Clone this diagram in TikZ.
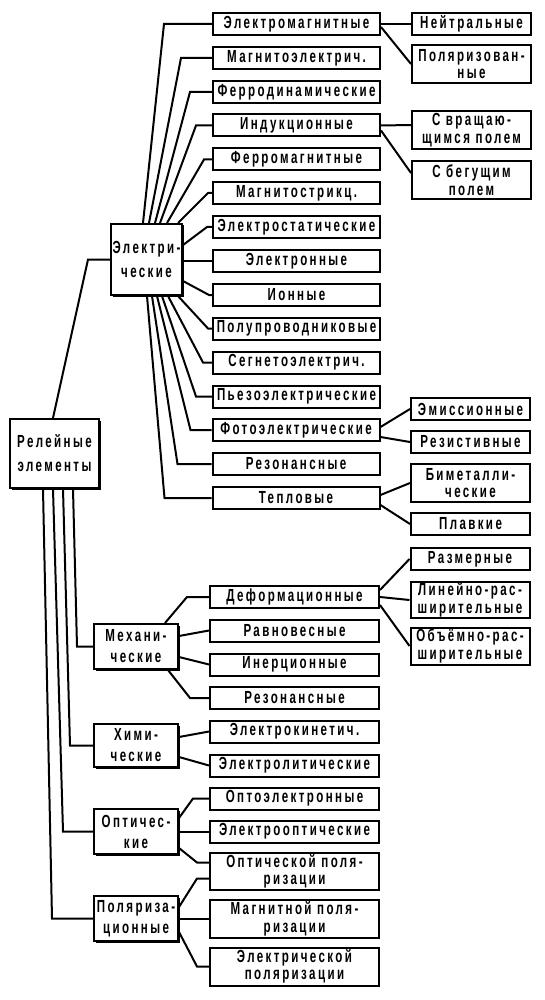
\documentclass[tikz,border=0pt]{standalone}
\usepackage{fontspec}
\setmainfont{Liberation Sans}[FakeStretch=0.66,LetterSpace=13.7]
\usetikzlibrary{shadows}
\begin{document}
\begin{tikzpicture}[x=1pt,y=-1pt,
  box/.style={draw, fill=white, line width=2pt, inner sep=0pt, align=center, font=\fontsize{17.5}{17.5}\selectfont\bfseries},
  sub/.style={box, minimum width=167pt, minimum height=22pt},
  subl/.style={box, minimum width=169pt, minimum height=22pt},
  side/.style={box, minimum width=119pt, minimum height=22pt},
  grp/.style={box, font=\fontsize{17.5}{21}\selectfont\bfseries, minimum width=84pt, minimum height=45pt,
    drop shadow={shadow xshift=1.5pt, shadow yshift=-1.5pt, fill=black, opacity=1}},
  wire/.style={line width=2pt}]
\useasboundingbox (0,0) rectangle (545,1000);
% groups
\node[grp, minimum width=89pt, minimum height=69pt, font=\fontsize{17.5}{24}\selectfont\bfseries] (rel) at (54.5,453.5) {Релейные\\элементы};
\node[grp, minimum width=71pt, minimum height=71pt, font=\fontsize{17.5}{24}\selectfont\bfseries] (el) at (146.5,259.5) {Электри-\\ческие};
\node[grp] (mech) at (136,646.5) {Механи-\\ческие};
\node[grp, minimum height=43pt] (chem) at (136,745.5) {Хими-\\ческие};
\node[grp] (opt) at (136,831.5) {Оптичес-\\кие};
\node[grp] (pol) at (136,918.5) {Поляриза-\\ционные};
% electric
\node[sub] (e1) at (296.5,24) {Электромагнитные};
\node[sub] (e2) at (296.5,58) {Магнитоэлектрич.};
\node[sub] (e3) at (296.5,92) {Ферродинамические};
\node[sub] (e4) at (296.5,125.5) {Индукционные};
\node[sub] (e5) at (296.5,159.5) {Ферромагнитные};
\node[sub] (e6) at (296.5,193) {Магнитострикц.};
\node[sub] (e7) at (296.5,227) {Электростатические};
\node[sub] (e8) at (296.5,261) {Электронные};
\node[sub] (e9) at (296.5,295) {Ионные};
\node[sub] (e10) at (296.5,328.5) {Полупроводниковые};
\node[sub] (e11) at (296.5,362.5) {Сегнетоэлектрич.};
\node[sub] (e12) at (296.5,396.5) {Пьезоэлектрические};
\node[sub] (e13) at (296,430) {Фотоэлектрические};
\node[sub] (e14) at (296,464) {Резонансные};
\node[sub] (e15) at (296,498) {Тепловые};
\node[side] (n1) at (471.5,24) {Нейтральные};
\node[side, minimum height=38pt] (n2) at (471.5,64) {Поляризован-\\ные};
\node[side, minimum height=38pt] (n3) at (471.5,130) {С вращаю-\\щимся полем};
\node[side, minimum height=38pt] (n4) at (471.5,180) {С бегущим\\полем};
\node[side] (f1) at (470.5,409) {Эмиссионные};
\node[side] (f2) at (470.5,442) {Резистивные};
\node[side, minimum height=38pt] (t1) at (470.5,483) {Биметалли-\\ческие};
\node[side] (t2) at (470.5,524) {Плавкие};
% mechanical, chemical, optical, polarisation
\node[subl] (m1) at (294.5,597) {Деформационные};
\node[subl] (m2) at (294.5,630.5) {Равновесные};
\node[subl] (m3) at (294.5,664.5) {Инерционные};
\node[subl] (m4) at (294.5,698) {Резонансные};
\node[side] (d1) at (470,559) {Размерные};
\node[side, minimum height=36pt] (d2) at (470,600) {Линейно-рас-\\ширительные};
\node[side, minimum height=37pt] (d3) at (470,646) {Объёмно-рас-\\ширительные};
\node[subl] (c1) at (294.5,731.5) {Электрокинетич.};
\node[subl] (c2) at (294.5,765.5) {Электролитические};
\node[subl] (o1) at (294.5,798.5) {Оптоэлектронные};
\node[subl] (o2) at (294.5,831.5) {Электрооптические};
\node[subl, minimum height=37pt] (o3) at (294.5,871.5) {Оптической поля-\\ризации};
\node[subl, minimum height=38pt] (p1) at (294.5,919) {Магнитной поля-\\ризации};
\node[subl, minimum height=38pt] (p2) at (294.5,966.5) {Электрической\\поляризации};
% relay -> groups
\draw[wire] ([xshift=-1.5pt]rel.north) -- ([xshift=-22pt]el.west) -- (el.west);
\draw[wire] ([xshift=18.5pt]rel.south) -- ([xshift=-16pt]mech.west) -- (mech.west);
\draw[wire] ([xshift=8.5pt]rel.south) -- ([xshift=-23pt]chem.west) -- (chem.west);
\draw[wire] ([xshift=-1.5pt]rel.south) -- ([xshift=-30pt]opt.west) -- (opt.west);
\draw[wire] ([xshift=-11.5pt]rel.south) -- ([xshift=-41pt]pol.west) -- (pol.west);
% electric fan
\draw[wire] ([xshift=-3.5pt]el.north) -- ([xshift=-48pt]e1.west) -- (e1.west);
\draw[wire] ([xshift=2.5pt]el.north) -- ([xshift=-31pt]e2.west) -- (e2.west);
\draw[wire] ([xshift=8.5pt]el.north) -- ([xshift=-22pt]e3.west) -- (e3.west);
\draw[wire] ([xshift=13.5pt]el.north) -- ([xshift=-16pt]e4.west) -- (e4.west);
\draw[wire] ([xshift=20.5pt]el.north) -- ([xshift=-8pt]e5.west) -- (e5.west);
\draw[wire] ([xshift=31.5pt]el.north) -- ([xshift=-4pt]e6.west) -- (e6.west);
\draw[wire] ([yshift=14.5pt]el.east) -- ([xshift=-5pt]e7.west) -- (e7.west);
\draw[wire] (e8.west -| el.east) -- (e8.west);
\draw[wire] ([yshift=-21.5pt]el.east) -- ([xshift=-3pt]e9.west) -- (e9.west);
\draw[wire] ([xshift=31.5pt]el.south) -- ([xshift=-4pt]e10.west) -- (e10.west);
\draw[wire] ([xshift=21.5pt]el.south) -- ([xshift=-9pt]e11.west) -- (e11.west);
\draw[wire] ([xshift=15.5pt]el.south) -- ([xshift=-16pt]e12.west) -- (e12.west);
\draw[wire] ([xshift=10.5pt]el.south) -- ([xshift=-21pt]e13.west) -- (e13.west);
\draw[wire] ([xshift=5.5pt]el.south) -- ([xshift=-34pt]e14.west) -- (e14.west);
\draw[wire] ([xshift=0.5pt]el.south) -- ([xshift=-47pt]e15.west) -- (e15.west);
% electric subtypes
\draw[wire] (e1.east) -- (n1.west);
\draw[wire] ([yshift=-3pt]e1.east) -- (n2.west);
\draw[wire] (e4.east) -- ([yshift=5pt]n3.west);
\draw[wire] ([yshift=-5pt]e4.east) -- ([yshift=7pt]n4.west);
\draw[wire] ([yshift=3pt]e13.east) -- (f1.west);
\draw[wire] ([yshift=-7pt]e13.east) -- (f2.west);
\draw[wire] ([yshift=3pt]e15.east) -- (t1.west);
\draw[wire] ([yshift=-7pt]e15.east) -- (t2.west);
% mechanical
\draw[wire] ([xshift=29pt]mech.north) -- ([xshift=-22pt]m1.west) -- (m1.west);
\draw[wire] ([yshift=10.5pt]mech.east) -- (m2.west);
\draw[wire] ([yshift=-10.5pt]mech.east) -- (m3.west);
\draw[wire] ([xshift=32pt]mech.south) -- ([xshift=-19pt]m4.west) -- (m4.west);
\draw[wire] ([yshift=7pt]m1.east) -- (d1.west);
\draw[wire] (m1.east) -- (d2.west);
\draw[wire] ([yshift=-8pt]m1.east) -- (d3.west);
% chemical
\draw[wire] ([yshift=8.5pt]chem.east) -- (c1.west);
\draw[wire] ([yshift=-11.5pt]chem.east) -- (c2.west);
% optical
\draw[wire] ([yshift=13.5pt]opt.east) -- ([xshift=-16pt]o1.west) -- (o1.west);
\draw[wire] (o2.west -| opt.east) -- (o2.west);
\draw[wire] ([yshift=-16.5pt]opt.east) -- ([xshift=-12pt,yshift=9pt]o3.west) -- ([yshift=9pt]o3.west);
% polarisation
\draw[wire] ([yshift=11.5pt]pol.east) -- ([xshift=-12pt,yshift=-7pt]o3.west) -- ([yshift=-7pt]o3.west);
\draw[wire] (p1.west -| pol.east) -- (p1.west);
\draw[wire] ([yshift=-13.5pt]pol.east) -- ([xshift=-12pt]p2.west) -- (p2.west);
\end{tikzpicture}
\end{document}
